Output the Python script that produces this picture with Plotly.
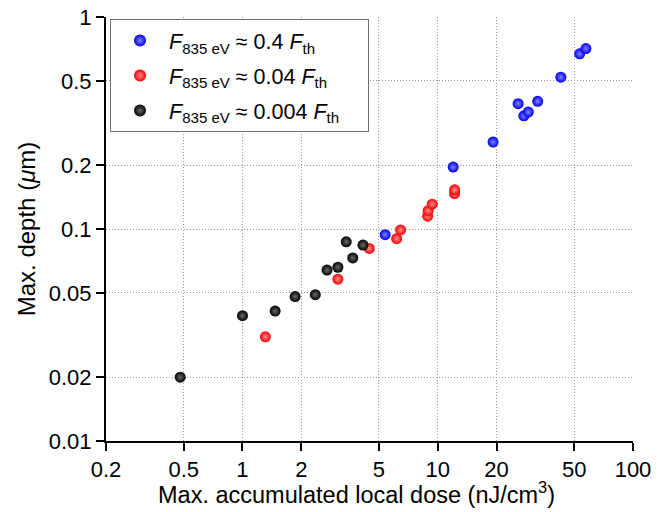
import plotly.graph_objects as go

# Data (x: max accumulated local dose nJ/cm^3, y: max depth um)
blue_x = [5.38, 12.0, 19.2, 25.8, 27.6, 29.1, 32.5, 42.7, 53.3, 57.4]
blue_y = [0.094, 0.196, 0.257, 0.39, 0.342, 0.356, 0.40, 0.52, 0.67, 0.71]

red_x = [1.31, 3.08, 4.46, 6.16, 6.45, 8.88, 8.93, 9.37, 12.2, 12.2]
red_y = [0.031, 0.058, 0.081, 0.090, 0.099, 0.115, 0.122, 0.131, 0.147, 0.153]

black_x = [0.48, 1.0, 1.47, 1.86, 2.36, 2.71, 3.08, 3.40, 3.67, 4.14]
black_y = [0.020, 0.039, 0.041, 0.048, 0.049, 0.064, 0.066, 0.087, 0.073, 0.084]

PAD = "\u00a0" * 4
names = [
    "<i>F</i><sub>835 eV</sub> ≈ 0.4 <i>F</i><sub>th</sub>" + PAD,
    "<i>F</i><sub>835 eV</sub> ≈ 0.04 <i>F</i><sub>th</sub>" + PAD,
    "<i>F</i><sub>835 eV</sub> ≈ 0.004 <i>F</i><sub>th</sub>" + PAD,
]

x_ticks = [0.2, 0.5, 1, 2, 5, 10, 20, 50, 100]
x_ticklabels = ["0.2", "0.5", "1", "2", "5", "10", "20", "50", "100"]
y_ticks = [0.01, 0.02, 0.05, 0.1, 0.2, 0.5, 1]
y_ticklabels = ["0.01", "0.02", "0.05", "0.1", "0.2", "0.5", "1"]

x_title = "Max. accumulated local dose (nJ/cm<sup>3</sup>)"
y_title = "Max. depth (<i>μ</i>m)"

FONT = "Liberation Sans, Arial, sans-serif"

fig = go.Figure()
series = [
    (blue_x, blue_y, names[0], "#0000f5", "#8080ff", "g1"),
    (red_x, red_y, names[1], "#f50000", "#ff8c8c", "g2"),
    (black_x, black_y, names[2], "#000000", "#6a6a6a", "g3"),
]
for xs, ys, nm, col, hi, grp in series:
    fig.add_trace(go.Scatter(
        x=xs, y=ys, mode="markers", name=nm, legendgroup=grp,
        marker=dict(size=11, color=col,
                    gradient=dict(type="radial", color=hi),
                    line=dict(width=0)),
    ))

axis_common = dict(
    type="log",
    automargin=False,
    ticklabeloverflow="allow",
    showline=True, linecolor="black", linewidth=2,
    ticks="outside", ticklen=8, tickwidth=2, tickcolor="black",
    showgrid=True, gridcolor="#9a9a9a", griddash="1px,2px", gridwidth=1,
    zeroline=False, mirror=False,
    tickfont=dict(family=FONT, size=22, color="black"),
)

fig.update_xaxes(
    **axis_common,
    range=[-0.69897, 2.0],
    tickmode="array", tickvals=x_ticks, ticktext=x_ticklabels,
)
fig.update_yaxes(
    **axis_common,
    range=[-2.0, 0.0],
    tickmode="array", tickvals=y_ticks, ticktext=y_ticklabels,
    title=dict(text=y_title,
               font=dict(family=FONT, size=24, color="black"), standoff=6),
)

fig.add_annotation(
    text=x_title, xref="paper", yref="paper",
    x=0.476, y=0.0, xanchor="center", yanchor="middle", yshift=-52,
    showarrow=False, font=dict(family=FONT, size=23.5, color="black"),
)

# page body adds an 8px offset; figure is sized so the plot lands where the reference has it
fig.update_layout(
    width=657, height=504,
    margin=dict(l=98, r=32, t=9, b=71, autoexpand=False),
    plot_bgcolor="white", paper_bgcolor="white",
    font=dict(family=FONT, color="black"),
    showlegend=True,
    legend=dict(
        x=0.0076, y=0.995, xanchor="left", yanchor="top",
        bgcolor="white", bordercolor="#6e6e6e", borderwidth=1,
        font=dict(family=FONT, size=21.5, color="black"),
        itemsizing="constant", tracegroupgap=4, itemwidth=48,
    ),
)

fig.write_html("out.html")
